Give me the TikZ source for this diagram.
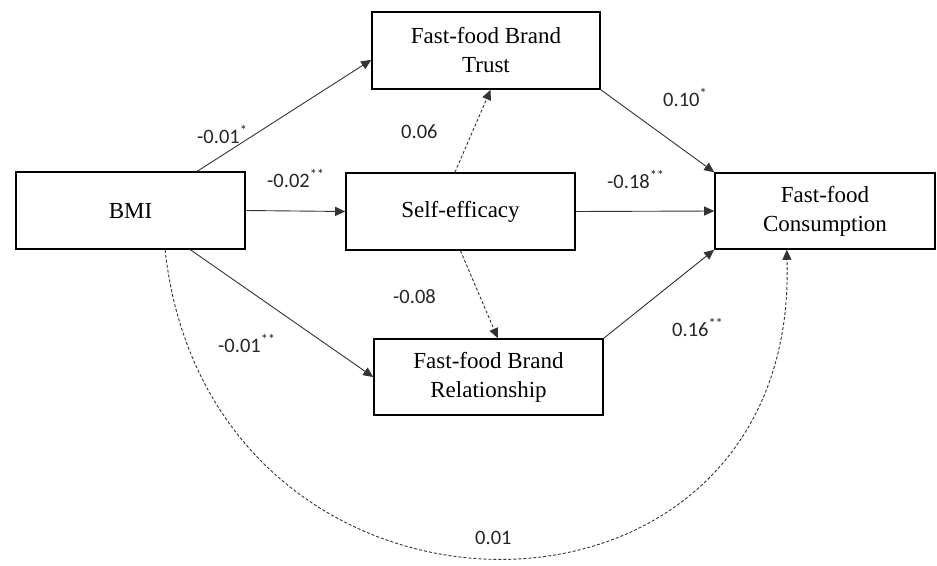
\documentclass[tikz,border=0pt]{standalone}
\usepackage{fontspec}
\setmainfont{Liberation Serif}
\newfontfamily\lblfont{Carlito}
\usetikzlibrary{arrows.meta,calc}
\begin{document}
\begin{tikzpicture}[x=1pt,y=-1pt,
  box/.style={draw=black,line width=1.6pt,fill=white,inner sep=0pt,align=center,
    font=\fontsize{23}{29}\selectfont},
  conn/.style={draw=black!80,line width=0.9pt,-{Triangle[length=10pt,width=9pt]}},
  dconn/.style={conn,dash pattern=on 3pt off 2pt},
  lbl/.style={anchor=base west,inner sep=0pt,text=black!85,font=\lblfont\fontsize{20.5}{24}\selectfont}]
\useasboundingbox (0,0) rectangle (937,565);
\node[box,minimum width=229pt,minimum height=77pt] (bmi) at (130.5,210.5) {BMI};
\node[box,minimum width=228pt,minimum height=77pt] (trust) at (486,50.5) {Fast-food Brand\\Trust};
\node[box,minimum width=229pt,minimum height=77pt] (se) at (460.5,211.5) {Self-efficacy};
\node[box,minimum width=220pt,minimum height=76pt] (cons) at (825,211) {Fast-food\\Consumption};
\node[box,minimum width=229pt,minimum height=76pt] (rel) at (488.5,377) {Fast-food Brand\\Relationship};
% connectors
\draw[conn] ($(bmi.north west)!0.79!(bmi.north east)$) -- ($(trust.north west)!0.62!(trust.south west)$);
\draw[conn] (bmi.east) -- (se.west);
\draw[conn] ($(bmi.south west)!0.76!(bmi.south east)$) -- (rel.west);
\draw[dconn] ($(se.north west)!0.476!(se.north east)$) -- ($(trust.south west)!0.52!(trust.south east)$);
\draw[dconn] (se.south) -- ($(rel.north west)!0.54!(rel.north east)$);
\draw[conn] (trust.south east) -- (cons.north west);
\draw[conn] (se.east) -- (cons.west);
\draw[conn] (rel.north east) -- (cons.south west);
\draw[dconn] ($(bmi.south west)!0.65!(bmi.south east)$) .. controls (210,661) and (800,661) .. ($(cons.south west)!0.327!(cons.south east)$);
% labels
\node[lbl] (l1) at (197,143) {-0.01\textsuperscript{*}};
\node[lbl] (l2) at (267,187) {-0.02\textsuperscript{**}};
\node[lbl] (l3) at (401,138) {0.06};
\node[lbl] (l4) at (663,106) {0.10\textsuperscript{*}};
\node[lbl] (l5) at (607,188) {-0.18\textsuperscript{**}};
\node[lbl] (l6) at (393,303) {-0.08};
\node[lbl] (l7) at (218,352) {-0.01\textsuperscript{**}};
\node[lbl] (l8) at (672,336) {0.16\textsuperscript{**}};
\node[lbl] (l9) at (475,544) {0.01};
\end{tikzpicture}
\end{document}
